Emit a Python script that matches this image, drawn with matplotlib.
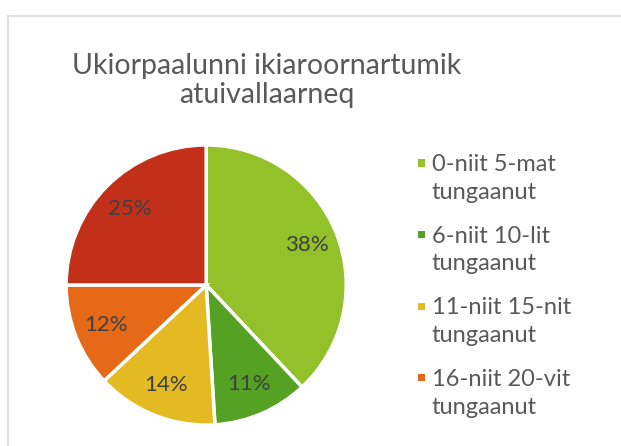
import matplotlib
matplotlib.use("Agg")
import matplotlib.pyplot as plt
from matplotlib.patches import Rectangle
from matplotlib.lines import Line2D

plt.rcParams['font.family'] = ['Lato', 'DejaVu Sans']

# data
categories = ["0-niit 5-mat\ntungaanut", "6-niit 10-lit\ntungaanut",
              "11-niit 15-nit\ntungaanut", "16-niit 20-vit\ntungaanut",
              "21-niit sinnerlugu\ntungaanut"]
values = [38, 11, 14, 12, 25]
colors = ["#92C12A", "#54A123", "#E4BA22", "#E66918", "#C3301A"]
title = "Ukiorpaalunni ikiaroornartumik\natuivallaarneq"

fig = plt.figure(figsize=(6.21, 4.46), dpi=100)

# chart border (cropped chart area)
fig.add_artist(Line2D([8/621, 8/621], [0, 1 - 16/446], transform=fig.transFigure,
                      color="#d9d9d9", lw=1.2))
fig.add_artist(Line2D([8/621, 1], [1 - 16/446, 1 - 16/446], transform=fig.transFigure,
                      color="#d9d9d9", lw=1.2))

ax = fig.add_axes([0.1065, 0.047, 0.451, 0.628])
wedges, texts, autotexts = ax.pie(
    values, colors=colors, startangle=90, counterclock=False,
    autopct="%1.0f%%", pctdistance=0.77, radius=1,
    wedgeprops=dict(edgecolor="white", linewidth=2.5),
    textprops=dict(color="#404040", fontsize=16))
ax.set_xlim(-1, 1)
ax.set_ylim(-1, 1)
ax.set_aspect("equal")

# va='baseline' on multi-line text anchors the last line
fig.text(0.43, 1 - 103/446, title, ha="center", va="baseline", fontsize=20.5,
         color="#595959", linespacing=1.12)

# legend (only first four entries visible in the cropped chart)
for i in range(4):
    y_mid = 1 - (163 + 71.5 * i) / 446
    fig.add_artist(Rectangle((418/621, y_mid - 3.5/446), 7/621, 7/446,
                             transform=fig.transFigure, color=colors[i], lw=0))
    fig.text(432/621, 1 - (199 + 71.5 * i) / 446, categories[i], ha="left",
             va="baseline", fontsize=17, color="#595959", linespacing=1.4)

fig.savefig("out.png", dpi=100)
